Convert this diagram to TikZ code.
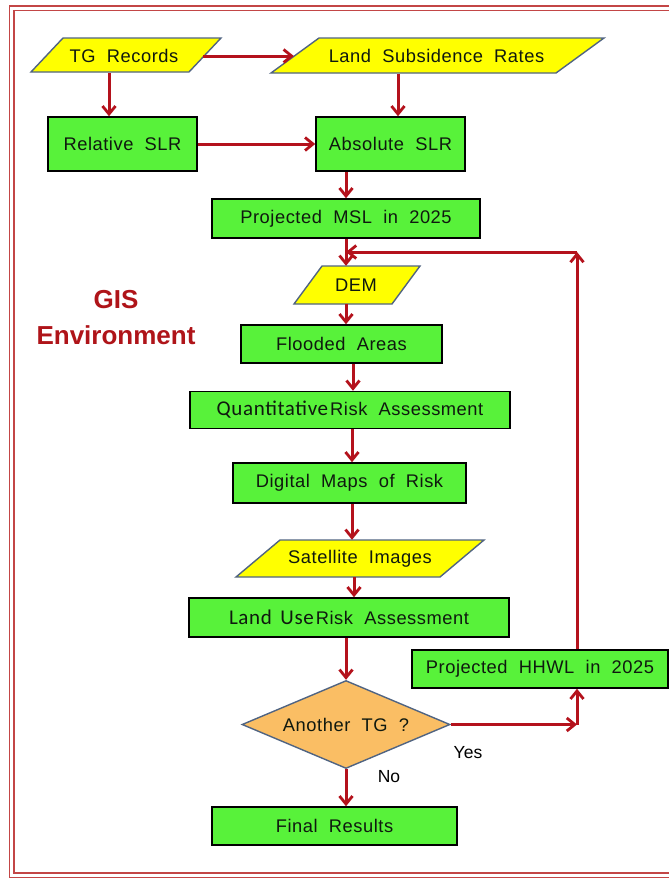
\documentclass[tikz,border=0pt]{standalone}
\usepackage{fontspec}
\setmainfont{Liberation Sans}
\newfontfamily\boxfnt[LetterSpace=3,WordSpace=2.0]{Liberation Sans}
\newfontfamily\calfnt[LetterSpace=3,WordSpace=1.6]{Carlito}
\usetikzlibrary{arrows.meta,shapes.geometric}
\definecolor{boxgreen}{RGB}{88,242,58}
\definecolor{ioyellow}{RGB}{255,255,0}
\definecolor{ioedge}{RGB}{80,100,130}
\definecolor{diafill}{RGB}{250,190,100}
\definecolor{arrred}{RGB}{180,18,28}
\definecolor{frame}{RGB}{195,70,70}
\definecolor{gisred}{RGB}{175,20,25}
\definecolor{txt}{RGB}{15,25,15}
\newcommand{\pgram}[5]{\filldraw[iopath] (#1,#4) -- (#1+#5,#3) -- (#2,#3) -- (#2-#5,#4) -- cycle;}
\tikzset{
  procbox/.style={rectangle, draw=black, line width=1.5pt, fill=boxgreen, inner sep=0pt,
    text=txt, font=\boxfnt\fontsize{18.3}{20}\selectfont},
  iopath/.style={fill=ioyellow, draw=ioedge, line width=1.4pt},
  iotext/.style={rectangle, inner sep=0pt, text=txt, font=\boxfnt\fontsize{18.3}{20}\selectfont},
  decide/.style={diamond, draw=ioedge, line width=1.4pt, fill=diafill, inner sep=0pt, aspect=2.36,
    text=txt, font=\boxfnt\fontsize{18.3}{20}\selectfont},
  arr/.style={draw=arrred, line width=3pt, -{Straight Barb[length=8pt,width=13pt,line width=2.8pt]}},
  lbl/.style={inner sep=0pt, font=\fontsize{17.5}{20}\selectfont, text=black},
  framel/.style={draw=frame, line width=1.4pt}
}
\begin{document}
\begin{tikzpicture}[x=1pt,y=-1pt]
\useasboundingbox (0,0) rectangle (669,879);
\fill[white] (0,0) rectangle (669,879);
% frame
\draw[framel] (669,6) -- (9.5,6) -- (9.5,877.5) -- (669,877.5);
\draw[framel] (669,10.5) -- (14,10.5) -- (14,873) -- (669,873);
% GIS label
\node[inner sep=0pt, text=gisred, font=\bfseries\fontsize{26}{36}\selectfont, align=center] (gis) at (116,318) {GIS\\Environment};
% input shapes
\pgram{31}{221}{38}{72}{32}
\node[iotext, minimum width=158pt, minimum height=34pt] (tg) at (124,56) {TG Records};
\pgram{271}{604}{38}{73}{48}
\node[iotext, minimum width=285pt, minimum height=35pt] (lsr) at (436.5,56) {Land Subsidence Rates};
\pgram{294}{420}{266}{304}{28}
\node[iotext, minimum width=98pt, minimum height=38pt] (dem) at (356,285) {DEM};
\pgram{236}{484}{540}{577}{44}
\node[iotext, minimum width=204pt, minimum height=37pt] (sat) at (360,558.5) {Satellite Images};
% process boxes
\node[procbox, minimum width=149pt, minimum height=54pt] (rel) at (122.5,144) {Relative SLR};
\node[procbox, minimum width=149pt, minimum height=54pt] (abs) at (390.5,144) {Absolute SLR};
\node[procbox, minimum width=268pt, minimum height=39pt] (msl) at (346,218.5) {Projected MSL in 2025};
\node[procbox, minimum width=201pt, minimum height=38pt] (flood) at (341.5,344) {Flooded Areas};
\node[procbox, minimum width=320pt, minimum height=37pt] (quant) at (350,410) {{\calfnt\fontsize{21}{24}\selectfont Quantitative}\kern2pt Risk Assessment};
\node[procbox, minimum width=233pt, minimum height=40pt] (dig) at (349.5,483) {Digital Maps of Risk};
\node[procbox, minimum width=320pt, minimum height=39pt] (land) at (349,617.5) {{\calfnt\fontsize{21}{24}\selectfont Land Use}\kern2pt Risk Assessment};
\node[procbox, minimum width=256pt, minimum height=38pt] (hhwl) at (540,669) {Projected HHWL in 2025};
\node[decide, minimum width=208pt, minimum height=88pt] (dia) at (346,724.5) {Another TG ?};
\node[procbox, minimum width=245pt, minimum height=38pt] (final) at (334.5,826) {Final Results};
% labels
\node[lbl] (yes) at (468,753) {Yes};
\node[lbl] (no) at (389,777) {No};
% helper coordinates
\coordinate (ycorner) at (577,724.5);
\coordinate (fbk) at (577,252);
% connectors
\draw[arr] (tg.east) -- (lsr.west);
\draw[arr] ([xshift=-15pt]tg.south) -- ([xshift=-15pt]tg.south |- rel.north);
\draw[arr] ([xshift=-38.5pt]lsr.south) -- ([xshift=-38.5pt]lsr.south |- abs.north);
\draw[arr] (rel.east) -- (abs.west);
\draw[arr] (abs.south -| msl.north) -- (msl.north);
\draw[arr] (msl.south) -- (msl.south |- dem.north);
\draw[arr] (dem.south -| msl.south) -- (msl.south |- flood.north);
\draw[arr] ([xshift=3pt]quant.north |- flood.south) -- ([xshift=3pt]quant.north);
\draw[arr] ([xshift=2pt]quant.south) -- ([xshift=2pt]quant.south |- dig.north);
\draw[arr] ([xshift=2.5pt]dig.south) -- ([xshift=2.5pt]dig.south |- sat.north);
\draw[arr] ([xshift=-6pt]sat.south) -- ([xshift=-6pt]sat.south |- land.north);
\draw[arr] (land.south -| dia.north) -- (dia.north);
\draw[arr] (dia.south) -- (dia.south |- final.north);
\draw[arr] (dia.east) -- (ycorner);
\draw[arr] (ycorner) -- (ycorner |- hhwl.south);
\draw[arr] (ycorner |- hhwl.north) -- (fbk);
\draw[arr] (fbk) -- (fbk -| msl.south);
\end{tikzpicture}
\end{document}
